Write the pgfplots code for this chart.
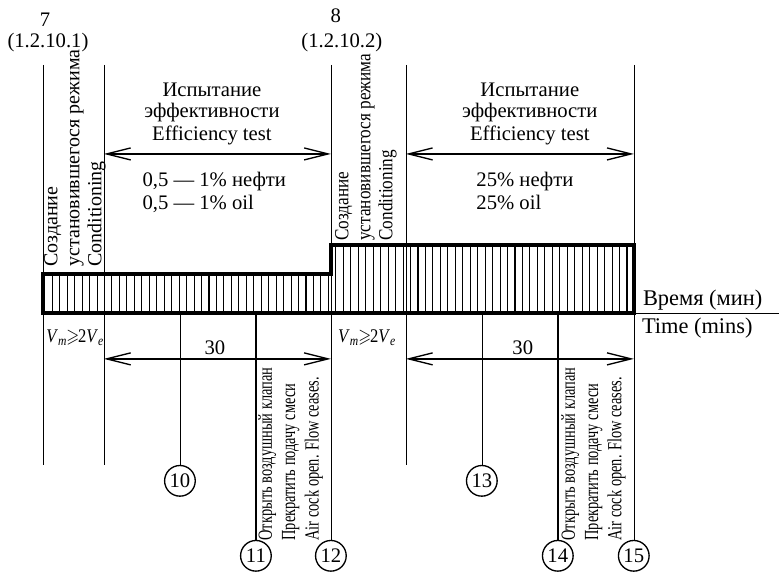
\documentclass[border=0pt]{standalone}
\usepackage{amssymb}
\usepackage{graphicx}
\usepackage{pgfplots}
\pgfplotsset{compat=1.18}
\usetikzlibrary{arrows.meta,patterns.meta}
\usepackage{fontspec}
\setmainfont{Liberation Serif}
\newfontfamily\narrowfont[FakeStretch=0.72]{Liberation Serif}
\newfontfamily\semifont[FakeStretch=0.86]{Liberation Serif}
\newcommand\mf{\fontsize{15.5}{18}\selectfont}
\newcommand\vmve{\scalebox{0.86}[1]{\textit{V}\textsubscript{\textit{m}}\kern-0.5pt$\geqslant$\kern-1pt2\textit{V}\textsubscript{\textit{e}}}}

\begin{document}
\begin{tikzpicture}[
    dim/.style={line width=1pt, {Straight Barb[length=18pt,width=9pt]}-{Straight Barb[length=18pt,width=9pt]}},
    num/.style={circle, draw, line width=1pt, minimum size=23pt, inner sep=0pt, font=\mf, fill=white},
    rot/.style={rotate=90, anchor=north west, align=left, inner sep=0pt},
    txt/.style={font=\mf, inner sep=1pt},
]
\begin{axis}[
    scale only axis, width=584.25pt, height=429.75pt,
    xmin=0, xmax=779, ymin=0, ymax=573, y dir=reverse,
    axis lines=none, clip=false,
    cycle list={{black, solid, no markers, line width=1.1pt}},
]
% keep the whole sheet as the picture
\path (rel axis cs:0,0) rectangle (rel axis cs:1,1);
% vertical event lines (x, top, bottom in px of the sheet)
\addplot coordinates {(43,65) (43,465)};
\addplot coordinates {(104,65) (104,465)};
\addplot coordinates {(180,313) (180,466)};
\addplot coordinates {(256,313) (256,542)};
\addplot coordinates {(331,65) (331,542)};
\addplot coordinates {(406,65) (406,465)};
\addplot coordinates {(482,313) (482,466)};
\addplot coordinates {(558,313) (558,542)};
\addplot coordinates {(634,65) (634,542)};
% time axis
\addplot coordinates {(634,313) (779,313)};
% flow level (hatched)
\addplot[black, line width=3pt, line join=miter,
    pattern={Lines[angle=90,distance=5.6pt,line width=0.8pt]}]
    coordinates {(43,313) (43,274) (331,274) (331,245) (634,245) (634,313)} -- cycle;
% dimension arrows
\addplot[black, dim] coordinates {(104,154) (331,154)};
\addplot[black, dim] coordinates {(406,154) (634,154)};
\addplot[black, dim] coordinates {(104,359) (331,359)};
\addplot[black, dim] coordinates {(406,359) (634,359)};

% headers
\node[txt, anchor=base] at (axis cs:45,27) {7};
\node[txt, anchor=base] at (axis cs:48,48) {(1.2.10.1)};
\node[txt, anchor=base] at (axis cs:336,23) {8};
\node[txt, anchor=base] at (axis cs:342,48) {(1.2.10.2)};

% efficiency test blocks
\node[txt, anchor=base] at (axis cs:212,97) {Испытание};
\node[txt, anchor=base] at (axis cs:212,118) {эффективности};
\node[txt, anchor=base] at (axis cs:212,141) {Efficiency test};
\node[txt, anchor=base] at (axis cs:530,97) {Испытание};
\node[txt, anchor=base] at (axis cs:530,118) {эффективности};
\node[txt, anchor=base] at (axis cs:530,141) {Efficiency test};
\node[txt, anchor=base west] at (axis cs:141,187) {0,5 — 1\% нефти};
\node[txt, anchor=base west] at (axis cs:141,210) {0,5 — 1\% oil};
\node[txt, anchor=base west] at (axis cs:475,187) {25\% нефти};
\node[txt, anchor=base west] at (axis cs:475,210) {25\% oil};

% conditioning blocks
\node[rot, font=\fontsize{15}{16.5}\selectfont] at (axis cs:44,267)
  {Создание\\установившегося режима\\Conditioning};
\node[rot, font=\semifont\fontsize{15}{16.5}\selectfont] at (axis cs:335,241)
  {Создание\\установившегося режима\\Conditioning};

% time labels
\node[anchor=base west, font=\fontsize{16.8}{19}\selectfont, inner sep=0pt] at (axis cs:643,306) {Время (мин)};
\node[anchor=base west, font=\fontsize{16.8}{19}\selectfont, inner sep=0pt] at (axis cs:642,334) {Time (mins)};

% durations
\node[txt, anchor=base] at (axis cs:215,355) {30};
\node[txt, anchor=base] at (axis cs:523,355) {30};
\node[anchor=base west, font=\fontsize{14.5}{16}\selectfont, inner sep=0pt] at (axis cs:46,343) {\vmve};
\node[anchor=base west, font=\fontsize{14.5}{16}\selectfont, inner sep=0pt] at (axis cs:338,343) {\vmve};

% stop notes
\node[rot, font=\narrowfont\fontsize{15}{17.5}\selectfont] at (axis cs:258,541)
  {Открыть воздушный клапан\\Прекратить подачу смеси\\Air cock open. Flow ceases.};
\node[rot, font=\narrowfont\fontsize{15}{17.5}\selectfont] at (axis cs:561,541)
  {Открыть воздушный клапан\\Прекратить подачу смеси\\Air cock open. Flow ceases.};

% step numbers
\node[num] at (axis cs:180,481) {10};
\node[num] at (axis cs:256,556) {11};
\node[num] at (axis cs:331,556) {12};
\node[num] at (axis cs:482,481) {13};
\node[num] at (axis cs:558,556) {14};
\node[num] at (axis cs:634,556) {15};
\end{axis}
\end{tikzpicture}
\end{document}
